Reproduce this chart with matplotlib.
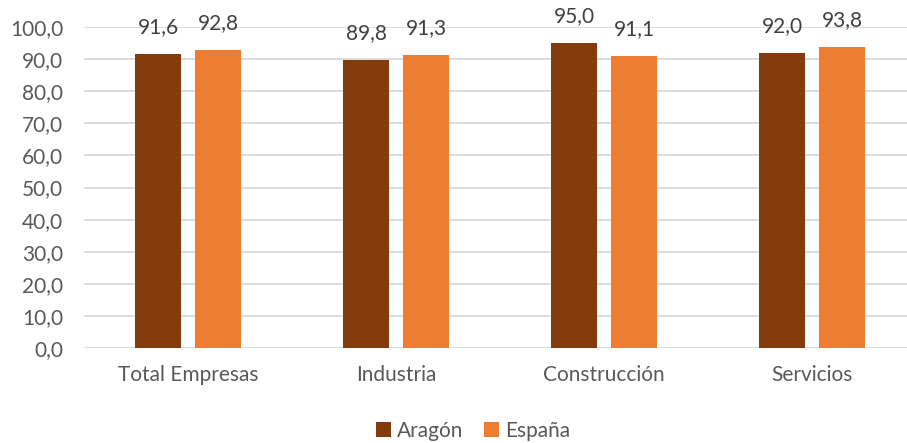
import matplotlib
matplotlib.use("Agg")
import matplotlib.pyplot as plt
import numpy as np

categories = ["Total Empresas", "Industria", "Construcción", "Servicios"]
aragon = [91.6, 89.8, 95.0, 92.0]
espana = [92.8, 91.3, 91.1, 93.8]
series_names = ["Aragón", "España"]
yticks = [0, 10, 20, 30, 40, 50, 60, 70, 80, 90, 100]

plt.rcParams['font.family'] = ['Lato', 'DejaVu Sans']
txt = '#595959'
fs = 15

W, H = 907, 443
fig = plt.figure(figsize=(W/100, H/100), dpi=100)
ax = fig.add_axes([84/W, 1-348/H, (W-84)/W, (348-27)/H])

x = np.arange(len(categories))
bw = 0.225
off = 0.144
b1 = ax.bar(x - off, aragon, bw, color='#843C0C', label=series_names[0], zorder=3)
b2 = ax.bar(x + off, espana, bw, color='#ED7D31', label=series_names[1], zorder=3)

for bars in (b1, b2):
    for r in bars:
        v = r.get_height()
        ax.annotate(f"{v:.1f}".replace('.', ','), (r.get_x() + r.get_width()/2, v),
                    xytext=(0, 12), textcoords='offset points', ha='center', va='bottom',
                    fontsize=fs, color='#404040')

ax.set_xlim(-0.5, -0.5 + (W-84)/208)
ax.set_ylim(0, 100)
ax.set_yticks(yticks)
ax.set_yticklabels([f"{t:.1f}".replace('.', ',') for t in yticks], fontsize=fs, color=txt)
ax.set_xticks(x)
ax.set_xticklabels(categories, fontsize=fs, color=txt)
ax.tick_params(axis='both', length=0)
ax.tick_params(axis='y', pad=15)
ax.tick_params(axis='x', pad=12)
ax.grid(axis='y', color='#D9D9D9', linewidth=1.3, zorder=0)
for s in ax.spines.values():
    s.set_visible(False)

fig.legend(handles=[b1, b2], labels=series_names, loc='center', bbox_to_anchor=(473/W, 1-431/H),
           ncol=2, frameon=False, fontsize=fs, handlelength=0.7, handleheight=0.7,
           handletextpad=0.3, columnspacing=1.0, labelcolor=txt)

fig.savefig("out.png", dpi=100)
